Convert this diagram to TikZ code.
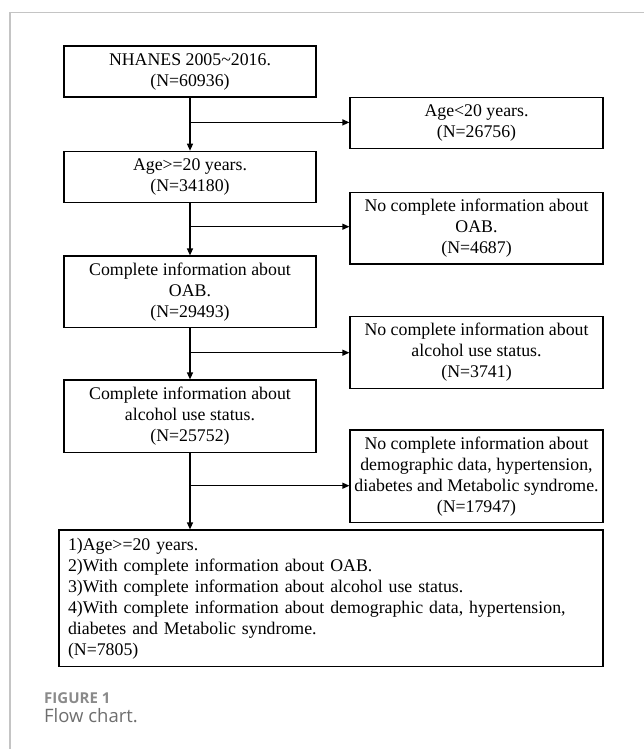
\documentclass[tikz,border=0pt]{standalone}
\usepackage{fontspec}
\setmainfont{Liberation Serif}
\newfontfamily\capfont{Open Sans}
\usetikzlibrary{arrows.meta}
\definecolor{framegray}{HTML}{C4C4C4}
\definecolor{figgray}{HTML}{8A8A8A}
\definecolor{capgray}{HTML}{6E6E6E}
\begin{document}
\begin{tikzpicture}[x=1pt,y=-1pt,
  box/.style={draw=black, line width=1.2pt, rectangle, inner sep=0pt, align=center,
              font=\fontsize{17.8}{21}\selectfont},
  lbox/.style={box, minimum width=252pt},
  rbox/.style={box, minimum width=253pt},
  arr/.style={line width=1.2pt, -{Triangle[length=7pt,width=6pt]}},
  capA/.style={anchor=base west, inner sep=0pt, text=figgray,
               font=\capfont\bfseries\fontsize{15}{17}\selectfont},
  capB/.style={anchor=base west, inner sep=0pt, text=capgray,
               font=\capfont\fontsize{18.5}{21}\selectfont}]
\useasboundingbox (0,0) rectangle (644,749);
\draw[framegray, line width=1.5pt] (10,749) -- (10,12.3) -- (644,12.3);

\node[lbox, minimum height=51pt] (b1) at (190,71.5) {NHANES 2005\textasciitilde2016.\\(N=60936)};
\node[rbox, minimum height=51pt] (b2) at (476.5,122.8) {Age<20 years.\\(N=26756)};
\node[lbox, minimum height=51pt] (b3) at (190,176.8) {Age>=20 years.\\(N=34180)};
\node[rbox, minimum height=71.3pt] (b4) at (476.5,228.35) {No complete information about\\OAB.\\(N=4687)};
\node[lbox, minimum height=71.7pt] (b5) at (190,291.85) {Complete information about\\OAB.\\(N=29493)};
\node[rbox, minimum height=71.6pt] (b6) at (476.5,352.5) {No complete information about\\alcohol use status.\\(N=3741)};
\node[lbox, minimum height=72.3pt] (b7) at (190,416.15) {Complete information about\\alcohol use status.\\(N=25752)};
\node[rbox, minimum height=92.7pt] (b8) at (476.5,476.35) {No complete information about\\demographic data, hypertension,\\diabetes and Metabolic syndrome.\\(N=17947)};
\node[box, minimum width=544pt, minimum height=136.7pt, text width=526pt, align=left] (fin) at (331,598.35)
  {1)Age>=20 years.\\2)With complete information about OAB.\\3)With complete information about alcohol use status.\\4)With complete information about demographic data, hypertension,\\diabetes and Metabolic syndrome.\\(N=7805)};

\coordinate (j1) at (190,122.4);
\coordinate (j2) at (190,226.7);
\coordinate (j3) at (190,352.7);
\coordinate (j4) at (190,485.7);

\draw[arr] (b1.south) -- (b3.north);
\draw[arr] (j1) -- (j1 -| b2.west);
\draw[arr] (b3.south) -- (b5.north);
\draw[arr] (j2) -- (j2 -| b4.west);
\draw[arr] (b5.south) -- (b7.north);
\draw[arr] (j3) -- (j3 -| b6.west);
\draw[arr] (b7.south) -- (b7.south |- fin.north);
\draw[arr] (j4) -- (j4 -| b8.west);

\node[capA] (cap1) at (44,703) {FIGURE 1};
\node[capB] (cap2) at (44,722) {Flow chart.};
\end{tikzpicture}
\end{document}
